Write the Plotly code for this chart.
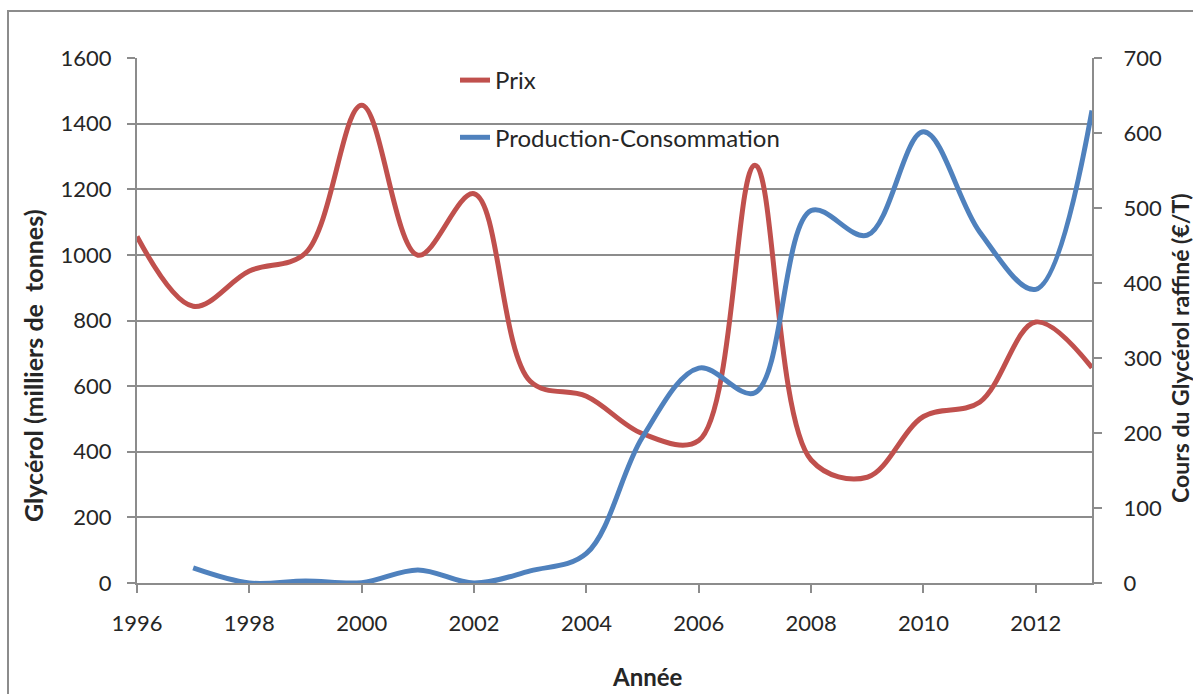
import plotly.graph_objects as go

# Glycerol market: refined glycerol price and production minus consumption
years_prix = list(range(1996, 2014))
prix = [462, 369, 416, 440, 637, 437, 519, 269, 249, 199, 190, 557, 164, 141, 222, 241, 348, 287]

years_prod = list(range(1997, 2014))
production_consommation = [46, 0, 6, 1, 40, 0, 37, 90, 445, 655, 580, 1135, 1060, 1375, 1070, 895, 1440]

x_ticks = list(range(1996, 2013, 2))
left_ticks = list(range(0, 1601, 200))
right_ticks = list(range(0, 701, 100))

RED = "#C0504D"
BLUE = "#4F81BD"
GRID = "#8C8C8C"
TEXT = "#262626"
FONT = "Lato, 'Open Sans', sans-serif"

fig = go.Figure()

fig.add_trace(go.Scatter(
    x=years_prix, y=prix, name="Prix", mode="lines", yaxis="y",
    line=dict(color=RED, width=5, shape="spline", smoothing=1.0),
    legendgroup="prix",
))
fig.add_trace(go.Scatter(
    x=years_prod, y=production_consommation, name="Production-Consommation",
    mode="lines", yaxis="y2",
    line=dict(color=BLUE, width=5, shape="spline", smoothing=1.0),
    legendgroup="prod",
))

fig.update_layout(
    width=1193, height=694,
    margin=dict(l=137, r=101, t=58, b=111),
    paper_bgcolor="white", plot_bgcolor="white",
    font=dict(family=FONT, size=22, color=TEXT),
    showlegend=True,
    legend=dict(
        x=(455 - 137) / 955, y=(583 - 58) / 525, xanchor="left", yanchor="top",
        bgcolor="rgba(0,0,0,0)", font=dict(size=24, color=TEXT),
        tracegroupgap=23, itemsizing="constant",
    ),
    xaxis=dict(
        range=[1996, 2013], tickvals=x_ticks, ticktext=[str(v) for v in x_ticks],
        showgrid=False, zeroline=False,
        showline=True, linecolor=GRID, linewidth=2,
        ticks="outside", ticklen=8, tickwidth=2, tickcolor=GRID,
        ticklabelstandoff=12,
    ),
    # right axis: price in EUR per tonne
    yaxis=dict(
        side="right", range=[0, 700], tickvals=right_ticks,
        showgrid=False, zeroline=False,
        showline=True, linecolor=GRID, linewidth=2,
        ticks="outside", ticklen=8, tickwidth=2, tickcolor=GRID,
        ticklabelstandoff=17,
    ),
    # left axis: quantities in thousand tonnes, carries the gridlines
    yaxis2=dict(
        side="left", overlaying="y", range=[0, 1600], tickvals=left_ticks,
        showgrid=True, gridcolor=GRID, gridwidth=2, zeroline=False,
        showline=True, linecolor=GRID, linewidth=2,
        ticks="outside", ticklen=8, tickwidth=2, tickcolor=GRID,
        ticklabelstandoff=11,
    ),
    annotations=[
        dict(text="<b>Glycérol (milliers de  tonnes)</b>", textangle=-90,
             xref="paper", yref="paper", x=(33 - 137) / 955, y=(583 - 366) / 525,
             xanchor="center", yanchor="middle",
             showarrow=False, font=dict(size=25, color=TEXT)),
        dict(text="<b>Cours du Glycérol raffiné (€/T)</b>", textangle=-90,
             xref="paper", yref="paper", x=(1180 - 137) / 955, y=(583 - 348) / 525,
             xanchor="center", yanchor="middle",
             showarrow=False, font=dict(size=23, color=TEXT)),
        dict(text="<b>Année</b>",
             xref="paper", yref="paper", x=(647 - 137) / 955, y=(583 - 676) / 525,
             xanchor="center", yanchor="middle",
             showarrow=False, font=dict(size=24, color=TEXT)),
    ],
    shapes=[
        dict(type="rect", xref="paper", yref="paper",
             x0=(8 - 137) / 955, x1=(1210 - 137) / 955,
             y0=(583 - 720) / 525, y1=(583 - 11) / 525,
             line=dict(color=GRID, width=2), fillcolor="rgba(0,0,0,0)", layer="below"),
    ],
)

fig.write_html("out.html")
